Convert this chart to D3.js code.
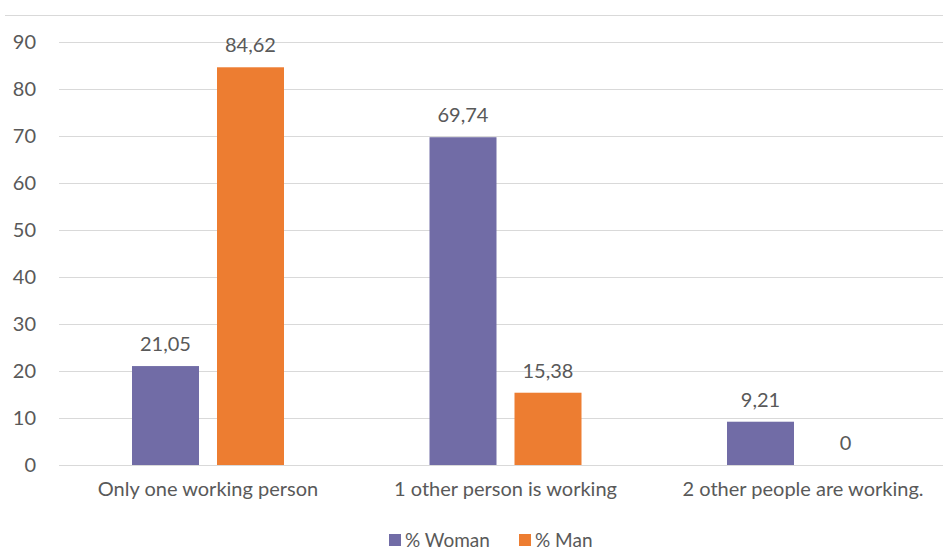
<!DOCTYPE html>
<html><head><meta charset="utf-8">
<script src="https://cdn.jsdelivr.net/npm/d3@7"></script>
<style>body{margin:0;background:#fff;} svg{display:block;}</style>
</head><body>
<svg id="c" width="943" height="552"></svg>
<script>
const categories = ["Only one working person", "1 other person is working", "2 other people are working."];
const seriesNames = ["% Woman", "% Man"];
const woman = [21.05, 69.74, 9.21];
const man = [84.62, 15.38, 0];
const yTicks = [0, 10, 20, 30, 40, 50, 60, 70, 80, 90];
const colors = ["#716ca6", "#ed7d31"];

const font = "Lato, 'Open Sans', sans-serif";
const fs = 20;
const txt = "#595959";
const svg = d3.select("#c");

// top border line
svg.append("line").attr("x1", 5).attr("x2", 943).attr("y1", 15.5).attr("y2", 15.5)
  .attr("stroke", "#d9d9d9").attr("stroke-width", 1);

const x0 = d3.scaleBand().domain(categories).range([59.25, 951.75]).paddingInner(0).paddingOuter(0);
const y = d3.scaleLinear().domain([0, 90]).range([465, 42]);

// gridlines
svg.append("g").selectAll("line").data(yTicks).join("line")
  .attr("x1", 59).attr("x2", 943)
  .attr("y1", d => Math.round(y(d)) + 0.5).attr("y2", d => Math.round(y(d)) + 0.5)
  .attr("stroke", "#d9d9d9").attr("stroke-width", 1.2);

// y axis labels
const yAxis = d3.axisLeft(y).tickValues(yTicks).tickSize(0).tickPadding(0);
const ya = svg.append("g").attr("transform", "translate(36,0)").call(yAxis);
ya.select(".domain").remove();
ya.selectAll("text").attr("font-family", font).attr("font-size", fs).attr("fill", txt);

// x axis labels
const xAxis = d3.axisBottom(x0).tickSize(0).tickPadding(0);
const xa = svg.append("g").attr("transform", "translate(0,482)").call(xAxis);
xa.select(".domain").remove();
xa.selectAll("text").attr("font-family", font).attr("font-size", fs).attr("fill", txt).attr("dy", "0.71em");

const data = categories.map((c, i) => ({cat: c, vals: [woman[i], man[i]]}));
const barW = 67, gap = 18;
const offs = [-(gap / 2 + barW), gap / 2];

const g = svg.append("g");
data.forEach(d => {
  const cx = x0(d.cat) + x0.bandwidth() / 2;
  d.vals.forEach((v, j) => {
    const bx = cx + offs[j];
    g.append("rect").attr("x", bx).attr("width", barW)
      .attr("y", y(v)).attr("height", y(0) - y(v)).attr("fill", colors[j]);
    g.append("text").attr("x", bx + barW / 2).attr("y", y(v) - 15)
      .attr("text-anchor", "middle").attr("font-family", font).attr("font-size", fs)
      .attr("fill", txt).text(String(v).replace(".", ","));
  });
});

// legend
const leg = svg.append("g").attr("transform", "translate(389,534)");
const legX = [0, 130];
seriesNames.forEach((n, i) => {
  leg.append("rect").attr("x", legX[i]).attr("y", 0).attr("width", 12).attr("height", 12).attr("fill", colors[i]);
  leg.append("text").attr("x", legX[i] + 16).attr("y", 6).attr("dy", "0.35em")
    .attr("font-family", font).attr("font-size", 19).attr("fill", txt).text(n);
});
</script>
</body></html>
